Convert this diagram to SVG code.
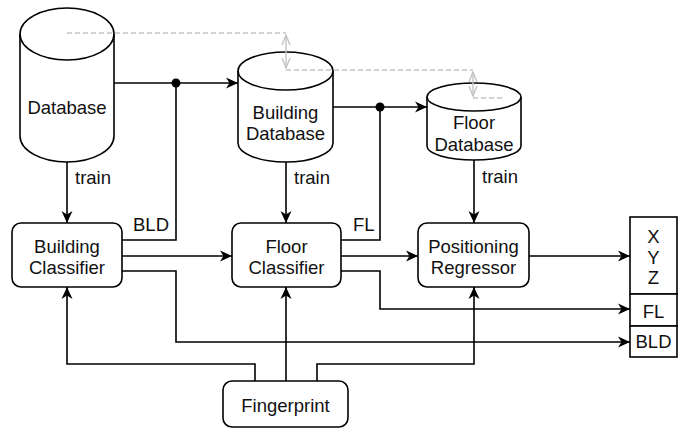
<svg xmlns="http://www.w3.org/2000/svg" width="686" height="430" viewBox="0 0 686 430">
<defs>
<style>
.s{fill:#fff;stroke:#000;stroke-width:1.6}
.c{fill:none;stroke:#000;stroke-width:1.6}
.ca{fill:none;stroke:#000;stroke-width:1.6;marker-end:url(#arr)}
.g{fill:none;stroke:#c4c4c4;stroke-width:1.4;stroke-dasharray:5 3}
.ga{fill:none;stroke:#c4c4c4;stroke-width:1.4;marker-start:url(#oa);marker-end:url(#oa)}
text{font-family:"Liberation Sans",Arial,sans-serif;font-size:18.5px;fill:#111}
.m{text-anchor:middle}
</style>
<marker id="arr" viewBox="0 0 12 12" refX="12" refY="6" markerWidth="12" markerHeight="12" markerUnits="userSpaceOnUse" orient="auto">
<path d="M0,0.5 L12,6 L0,11.5 L3.5,6 Z" fill="#000"/>
</marker>
<marker id="oa" viewBox="0 0 12 12" refX="11" refY="6" markerWidth="12" markerHeight="12" markerUnits="userSpaceOnUse" orient="auto-start-reverse">
<path d="M1,2 L11,6 L1,10" fill="none" stroke="#c4c4c4" stroke-width="1.4"/>
</marker>
</defs>
<rect width="686" height="430" fill="#fff"/>

<g id="connectors">
<path class="ca" d="M67,162 V223"/>
<path class="ca" d="M286,162 V223"/>
<path class="ca" d="M474,160 V223"/>
<path class="ca" d="M114,83 H238"/>
<path class="c" d="M122,240 H176 V83"/>
<path class="ca" d="M122,256 H232"/>
<path class="ca" d="M122,271 H176 V342 H630"/>
<path class="ca" d="M333,107 H427"/>
<path class="c" d="M341,240 H380 V107"/>
<path class="ca" d="M341,256 H418"/>
<path class="ca" d="M341,271 H380 V309 H630"/>
<path class="ca" d="M529,256 H630"/>
<path class="ca" d="M255,381 V364 H67 V287"/>
<path class="ca" d="M286,381 V287"/>
<path class="ca" d="M317,381 V364 H474 V287"/>
<circle cx="176" cy="83" r="4.5" fill="#000"/>
<circle cx="380" cy="107" r="4.5" fill="#000"/>
<text x="75" y="184">train</text>
<text x="294" y="184">train</text>
<text x="482" y="183">train</text>
<text x="133" y="231">BLD</text>
<text x="353" y="231">FL</text>
</g>

<g id="database">
<path class="s" d="M20,34 A47,26 0 0 1 114,34 L114,136 A47,26 0 0 1 20,136 Z"/>
<path class="c" d="M20,34 A47,26 0 0 0 114,34"/>
<text class="m" x="67" y="114">Database</text>
</g>

<g id="building-database">
<path class="s" d="M238,71 A47.5,19 0 0 1 333,71 L333,143 A47.5,19 0 0 1 238,143 Z"/>
<path class="c" d="M238,71 A47.5,19 0 0 0 333,71"/>
<text class="m" x="285.5" y="119">Building</text>
<text class="m" x="285.5" y="140">Database</text>
</g>

<g id="floor-database">
<path class="s" d="M427,97 A47,14 0 0 1 521,97 L521,146 A47,14 0 0 1 427,146 Z"/>
<path class="c" d="M427,97 A47,14 0 0 0 521,97"/>
<text class="m" x="474" y="129">Floor</text>
<text class="m" x="474" y="151">Database</text>
</g>

<g id="building-classifier">
<rect class="s" x="12" y="223" width="110" height="64" rx="9"/>
<text class="m" x="67" y="253">Building</text>
<text class="m" x="67" y="274">Classifier</text>
</g>

<g id="floor-classifier">
<rect class="s" x="232" y="223" width="109" height="64" rx="9"/>
<text class="m" x="286.5" y="253">Floor</text>
<text class="m" x="286.5" y="274">Classifier</text>
</g>

<g id="positioning-regressor">
<rect class="s" x="418" y="223" width="111" height="64" rx="9"/>
<text class="m" x="473.5" y="253">Positioning</text>
<text class="m" x="473.5" y="274">Regressor</text>
</g>

<g id="fingerprint">
<rect class="s" x="223" y="381" width="125" height="46" rx="9"/>
<text class="m" x="285.5" y="412">Fingerprint</text>
</g>

<g id="output">
<rect class="s" x="630" y="217" width="47" height="77"/>
<rect class="s" x="630" y="294" width="47" height="32"/>
<rect class="s" x="630" y="326" width="47" height="31"/>
<text class="m" x="653.5" y="243">X</text>
<text class="m" x="653.5" y="264">Y</text>
<text class="m" x="653.5" y="284">Z</text>
<text class="m" x="653.5" y="318">FL</text>
<text class="m" x="653.5" y="348">BLD</text>
</g>

<g id="guides">
<path class="g" d="M67,33 H286"/>
<path class="ga" d="M286,35 V68"/>
<path class="g" d="M286,70 H473"/>
<path class="ga" d="M473,72 V96"/>
<path class="g" d="M473,98 H505"/>
</g>
</svg>
